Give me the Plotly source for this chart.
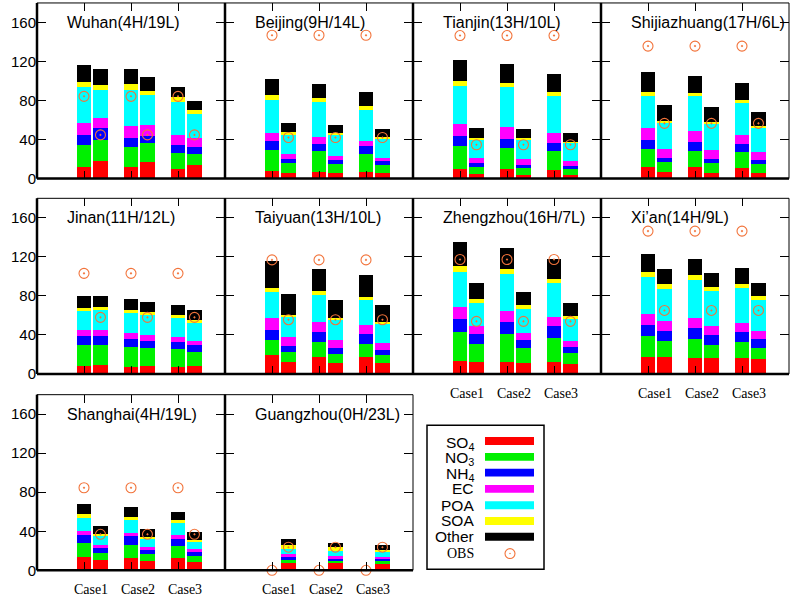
import plotly.graph_objects as go

W, H = 791, 601

cities = ["Wuhan(4H/19L)", "Beijing(9H/14L)", "Tianjin(13H/10L)", "Shijiazhuang(17H/6L)",
          "Jinan(11H/12L)", "Taiyuan(13H/10L)", "Zhengzhou(16H/7L)", "Xi\u2019an(14H/9L)",
          "Shanghai(4H/19L)", "Guangzhou(0H/23L)"]
cases = ["Case1", "Case2", "Case3"]
species = ["SO4", "NO3", "NH4", "EC", "POA", "SOA", "Other"]
# bar order per city: Case1-H, Case1-L, Case2-H, Case2-L, Case3-H, Case3-L
SO4 = [
    [12.1, 18.2, 11.5, 16.9, 10.1, 13.5],
    [7.8, 6.1, 7.1, 6.1, 7.1, 6.1],
    [10.1, 4.4, 9.4, 4.0, 9.1, 4.0],
    [12.1, 6.4, 11.5, 6.1, 11.1, 6.1],
    [8.1, 9.2, 7.5, 8.1, 7.1, 8.1],
    [19.3, 11.9, 17.6, 11.2, 17.3, 10.8],
    [13.2, 11.9, 12.5, 11.2, 12.2, 10.5],
    [17.6, 17.6, 16.6, 15.9, 15.9, 15.3],
    [13.9, 10.1, 12.9, 9.5, 12.2, 8.8],
    [0, 8.8, 0, 8.1, 0, 7.1],
]
NO3 = [
    [22.6, 21.6, 20.5, 19.5, 16.2, 12.1],
    [21.9, 9.4, 20.9, 8.7, 18.5, 7.7],
    [23.6, 7.4, 21.6, 6.8, 19.2, 6.1],
    [18.2, 10.1, 17.1, 9.7, 16.2, 8.7],
    [21.4, 20.3, 20.3, 18.3, 18.3, 14.3],
    [15.3, 10.1, 14.9, 8.8, 13.5, 8.2],
    [30.2, 18.9, 28.2, 14.9, 25.1, 10.5],
    [21.0, 16.0, 19.0, 13.9, 17.0, 11.8],
    [14.2, 7.8, 13.5, 6.7, 12.5, 6.1],
    [0, 2.0, 0, 1.7, 0, 2.0],
]
NH4 = [
    [10.1, 11.8, 9.5, 7.4, 7.7, 7.1],
    [8.4, 4.7, 7.7, 4.1, 7.4, 4.4],
    [10.1, 3.7, 9.4, 3.0, 8.1, 3.0],
    [9.5, 4.7, 8.8, 4.1, 8.1, 4.1],
    [9.1, 9.5, 7.8, 7.8, 7.5, 6.8],
    [10.8, 6.8, 10.2, 6.4, 9.9, 5.7],
    [13.2, 10.2, 12.2, 8.8, 11.5, 6.8],
    [11.2, 10.1, 11.2, 9.9, 9.8, 8.8],
    [8.4, 5.1, 8.4, 5.1, 7.8, 4.0],
    [0, 3.4, 0, 3.1, 0, 2.7],
]
EC = [
    [12.5, 10.8, 12.4, 11.1, 10.2, 8.8],
    [8.7, 5.1, 7.4, 4.7, 5.8, 3.4],
    [12.5, 5.7, 12.2, 6.1, 10.8, 5.1],
    [11.8, 9.5, 11.1, 9.1, 9.4, 8.4],
    [6.1, 5.7, 6.1, 5.5, 5.4, 4.7],
    [11.5, 9.2, 10.5, 8.2, 9.1, 6.8],
    [12.2, 7.8, 11.5, 6.8, 9.8, 6.4],
    [11.9, 10.2, 10.8, 9.5, 9.5, 7.8],
    [4.1, 3.0, 3.8, 2.7, 3.7, 2.8],
    [0, 2.0, 0, 1.6, 0, 2.1],
]
POA = [
    [36.4, 27.9, 37.4, 30.4, 34.3, 25.2],
    [33.4, 19.5, 35.1, 21.2, 31.3, 18.5],
    [38.4, 19.2, 41.1, 20.5, 37.7, 18.9],
    [33.3, 27.3, 35.8, 28.0, 32.4, 24.9],
    [19.7, 21.1, 20.7, 20.3, 19.0, 18.6],
    [27.2, 20.3, 28.2, 21.0, 26.1, 20.0],
    [35.9, 23.7, 38.0, 25.1, 34.3, 22.1],
    [37.3, 33.2, 39.0, 35.5, 35.9, 32.2],
    [12.9, 10.2, 12.5, 9.2, 11.8, 8.4],
    [0, 5.5, 0, 5.1, 0, 4.7],
]
SOA = [
    [5.4, 5.4, 5.4, 4.7, 4.7, 4.1],
    [5.1, 2.7, 4.7, 2.0, 4.7, 2.4],
    [5.7, 1.1, 4.7, 1.1, 3.7, 0.6],
    [3.7, 1.0, 3.7, 1.0, 3.7, 1.7],
    [3.4, 2.7, 3.4, 3.7, 3.0, 2.8],
    [3.7, 1.7, 3.7, 1.7, 3.1, 1.7],
    [5.8, 4.8, 4.7, 4.0, 4.7, 3.0],
    [5.7, 5.1, 4.8, 4.1, 4.1, 3.8],
    [4.3, 1.0, 3.7, 1.0, 3.1, 1.0],
    [0, 4.0, 0, 4.1, 0, 2.7],
]
Other = [
    [17.2, 16.2, 15.5, 13.8, 10.5, 8.4],
    [16.5, 9.5, 14.2, 8.5, 13.5, 8.4],
    [20.9, 10.7, 18.9, 9.1, 18.6, 9.5],
    [20.3, 16.5, 17.5, 15.1, 16.8, 14.5],
    [12.5, 11.2, 11.1, 10.5, 10.5, 10.5],
    [27.5, 22.0, 22.4, 18.0, 22.7, 17.3],
    [25.1, 15.9, 21.7, 13.6, 20.7, 13.6],
    [18.0, 15.3, 16.2, 14.3, 15.9, 13.2],
    [10.5, 8.1, 9.8, 7.7, 9.1, 8.1],
    [0, 6.1, 0, 4.7, 0, 5.1],
]
OBS_H = [84.3, 146.9, 146.6, 135.8, 103.1, 116.9, 117.3, 146.4, 84.6, 0.0]
OBS_L = [44.8, 42.1, 34.7, 56.6, 58.0, 55.6, 53.9, 65.1, 36.9, 23.7]

yticks = [0, 40, 80, 120, 160]

values = [SO4, NO3, NH4, EC, POA, SOA, Other]
colors = ["#FF0000", "#00F000", "#0000FF", "#FF00FF", "#00FFFF", "#FFFF00", "#000000"]
legend_labels = ["SO<sub>4</sub>", "NO<sub>3</sub>", "NH<sub>4</sub>", "EC", "POA", "SOA", "Other"]
obs_color = "#F2733A"

# layout geometry (pixels)
col_x = [37, 225, 413, 601, 789]
rows_y = [(3, 181), (201, 379), (400, 578)]
positions = [(0, 0), (0, 1), (0, 2), (0, 3), (1, 0), (1, 1), (1, 2), (1, 3), (2, 0), (2, 1)]
bottom_labels = {6, 7, 8, 9}

H_OFF = 0.0
L_OFF = 0.35
BW = 0.30

obs_marker = dict(symbol="circle-open-dot", size=10, color=obs_color,
                  line=dict(width=1.1, color=obs_color))

fig = go.Figure()
layout = dict(width=W, height=H, margin=dict(l=0, r=0, t=0, b=0),
              paper_bgcolor="white", plot_bgcolor="white", barmode="stack",
              showlegend=False, shapes=[], annotations=[])

for i, city in enumerate(cities):
    k = i + 1
    xa = "x" if k == 1 else f"x{k}"
    ya = "y" if k == 1 else f"y{k}"
    r, c = positions[i]
    xpos = []
    for j in range(3):
        xpos += [j + 1 + H_OFF, j + 1 + L_OFF]
    for s, vals in enumerate(values):
        fig.add_trace(go.Bar(x=xpos, y=vals[i], xaxis=xa, yaxis=ya,
                             marker=dict(color=colors[s], line=dict(width=0)),
                             width=BW, hoverinfo="y", name=species[s]))
    fig.add_trace(go.Scatter(x=[1 + H_OFF, 2 + H_OFF, 3 + H_OFF], y=[OBS_H[i]] * 3,
                             xaxis=xa, yaxis=ya, mode="markers", cliponaxis=False,
                             marker=obs_marker, name="OBS"))
    fig.add_trace(go.Scatter(x=[1 + L_OFF, 2 + L_OFF, 3 + L_OFF], y=[OBS_L[i]] * 3,
                             xaxis=xa, yaxis=ya, mode="markers", cliponaxis=False,
                             marker=obs_marker, name="OBS"))
    x0, x1 = col_x[c], col_x[c + 1]
    y0, y1 = rows_y[r]
    xkey = "xaxis" if k == 1 else f"xaxis{k}"
    ykey = "yaxis" if k == 1 else f"yaxis{k}"
    show_x = i in bottom_labels
    layout[xkey] = dict(domain=[x0 / W, x1 / W], range=[0, 4], anchor=ya,
                        tickvals=[1, 2, 3], ticktext=cases,
                        showticklabels=show_x,
                        ticks="inside", ticklen=8, tickwidth=1, tickcolor="black",
                        mirror="ticks", showline=False, showgrid=False, zeroline=False,
                        ticklabelshift=7, ticklabelstandoff=9,
                        tickfont=dict(family="Liberation Serif", size=14, color="black"))
    layout[ykey] = dict(domain=[1 - y1 / H, 1 - y0 / H], range=[0, 180], anchor=xa,
                        tickvals=yticks, showticklabels=(c == 0),
                        ticks="inside", ticklen=9, tickwidth=1, tickcolor="black",
                        mirror="ticks", showline=False, showgrid=False, zeroline=False,
                        tickfont=dict(family="Liberation Sans", size=15, color="black"))
    xd = f"{xa} domain"
    yd = f"{ya} domain"
    layout["shapes"].append(dict(type="rect", xref=xd, yref=yd, x0=0, x1=1, y0=0, y1=1,
                                 line=dict(color="black", width=1), layer="above"))
    layout["shapes"].append(dict(type="line", xref=xd, yref=yd, x0=0, x1=0, y0=0, y1=1,
                                 line=dict(color="black", width=2.5), layer="above"))
    layout["shapes"].append(dict(type="line", xref=xd, yref=yd, x0=0, x1=1, y0=0, y1=0,
                                 line=dict(color="black", width=2.5), layer="above"))
    layout["annotations"].append(dict(text=city, xref=xd, yref=ya, x=28 / 188, y=160,
                                      xanchor="left", yanchor="middle", showarrow=False,
                                      font=dict(family="Liberation Sans", size=16, color="black")))


def px(x):
    return x / W


def py(y):
    return 1 - y / H


# legend box
layout["shapes"].append(dict(type="rect", xref="paper", yref="paper",
                             x0=px(427), x1=px(544), y0=py(577), y1=py(431),
                             line=dict(color="black", width=1.5), fillcolor="white"))
row_y = [447, 463, 479, 495.5, 512, 528, 544]
for s in range(7):
    yc = row_y[s]
    layout["shapes"].append(dict(type="rect", xref="paper", yref="paper",
                                 x0=px(485), x1=px(534), y0=py(yc + 4), y1=py(yc - 4),
                                 line=dict(width=0), fillcolor=colors[s]))
    layout["annotations"].append(dict(text=legend_labels[s], xref="paper", yref="paper",
                                      x=px(476), y=py(yc + (2 if s < 3 else 0)),
                                      xanchor="right", yanchor="middle", showarrow=False,
                                      font=dict(family="Liberation Sans", size=15.5, color="black")))
layout["annotations"].append(dict(text="OBS", xref="paper", yref="paper",
                                  x=px(476), y=py(561), xanchor="right", yanchor="middle",
                                  showarrow=False,
                                  font=dict(family="Liberation Serif", size=14, color="black")))
layout["shapes"].append(dict(type="circle", xref="paper", yref="paper",
                             x0=px(505), x1=px(515), y0=py(566), y1=py(556),
                             line=dict(color=obs_color, width=1.1)))
layout["shapes"].append(dict(type="circle", xref="paper", yref="paper",
                             x0=px(509.5), x1=px(510.5), y0=py(561.5), y1=py(560.5),
                             line=dict(color=obs_color, width=0.5), fillcolor=obs_color))

fig.update_layout(**layout)
fig.write_html("out.html", config={"displayModeBar": False},
               post_script="document.body.style.margin='0';document.body.style.overflow='hidden';")
